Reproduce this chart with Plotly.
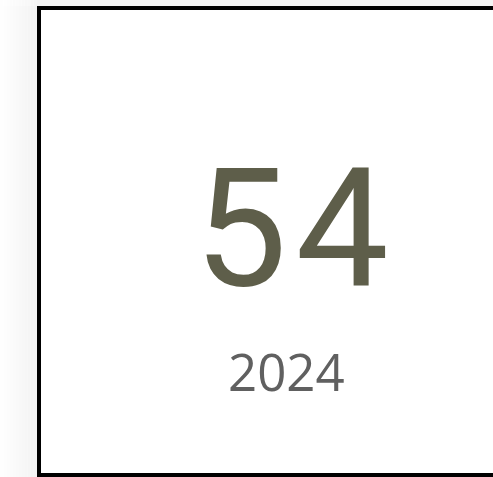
import plotly.graph_objects as go

# Data
kpi_value = [54]
kpi_label = ["2024"]

W, H = 493, 477

def px(x):
    return x / W

def py(y):
    return 1 - y / H

fig = go.Figure()

shapes = []
# soft shadow on the left (gradient) and top strip
steps = 12
for i in range(steps):
    x0 = 37 * i / steps
    x1 = 37 * (i + 1) / steps
    op = 0.045 * (i + 1) / steps
    shapes.append(dict(type="rect", xref="paper", yref="paper",
                       x0=px(x0), x1=px(x1), y0=py(H + 5), y1=py(6),
                       fillcolor=f"rgba(0,0,0,{op:.4f})", line=dict(width=0), layer="below"))
shapes.append(dict(type="rect", xref="paper", yref="paper",
                   x0=px(37), x1=px(W + 5), y0=py(6), y1=py(-5),
                   fillcolor="rgba(0,0,0,0.045)", line=dict(width=0), layer="below"))
for i in range(steps):
    x0 = 37 * i / steps
    x1 = 37 * (i + 1) / steps
    op = 0.035 * (i + 1) / steps
    shapes.append(dict(type="rect", xref="paper", yref="paper",
                       x0=px(x0), x1=px(x1), y0=py(6), y1=py(-5),
                       fillcolor=f"rgba(0,0,0,{op:.4f})", line=dict(width=0), layer="below"))
# card
shapes.append(dict(type="rect", xref="paper", yref="paper",
                   x0=px(39), x1=px(545), y0=py(475), y1=py(8),
                   fillcolor="white", line=dict(color="black", width=4)))

num_text = "<span style='font-size:80px'>\u200a</span>".join(str(kpi_value[0]))
fig.add_annotation(x=px(291), y=py(228), xref="paper", yref="paper",
                   text=num_text, showarrow=False,
                   xanchor="center", yanchor="middle",
                   font=dict(family="Roboto", size=166, color="#5e5e4a"))
fig.add_annotation(x=px(286), y=py(371), xref="paper", yref="paper",
                   text=kpi_label[0], showarrow=False,
                   xanchor="center", yanchor="middle",
                   font=dict(family="Open Sans", size=51, color="#606060"))

fig.update_layout(width=W, height=H, margin=dict(l=0, r=0, t=0, b=0),
                  paper_bgcolor="white", plot_bgcolor="white",
                  xaxis=dict(visible=False), yaxis=dict(visible=False),
                  shapes=shapes, showlegend=False)

fig.write_html("out.html", config={"displayModeBar": False},
               post_script="document.body.style.margin='0';document.body.style.overflow='hidden';")
